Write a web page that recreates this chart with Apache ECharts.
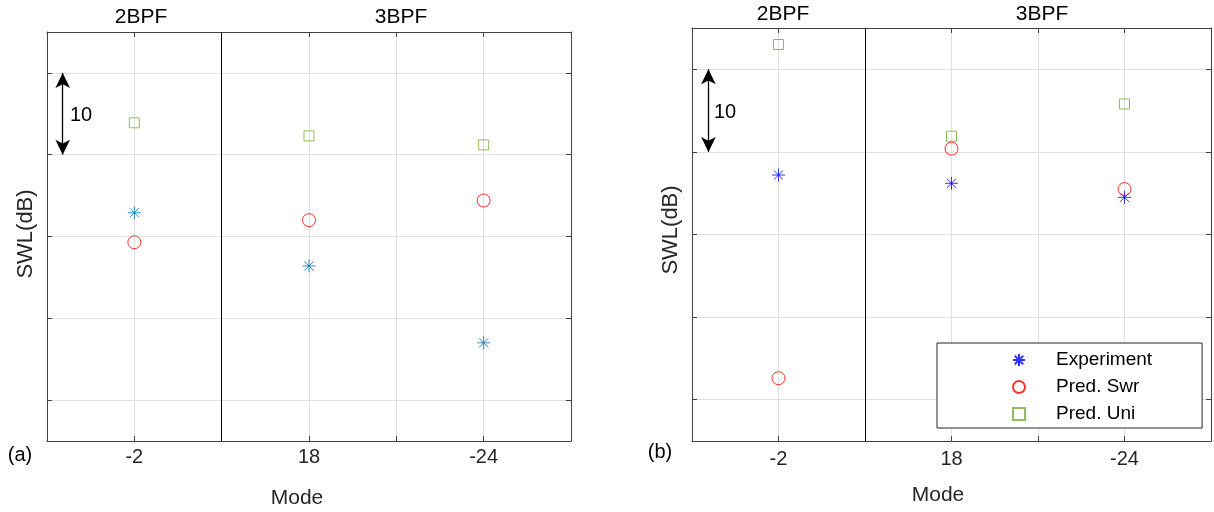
<!DOCTYPE html>
<html>
<head>
<meta charset="utf-8">
<script src="https://cdn.jsdelivr.net/npm/echarts@6.0.0/dist/echarts.min.js"></script>
<style>
html, body { margin: 0; padding: 0; background: #fff; }
#main { width: 1214px; height: 512px; }
</style>
</head>
<body>
<div id="main"></div>
<script>
// x axis: mode numbers and the slot each one sits in
var modes = ['-2', '18', '-24'];
var modeSlots = [1, 3, 5];
var bpfSplit = 2;          // line between 2BPF and 3BPF
var bpfNames = ['2BPF', '3BPF'];

// (a) SWL, dB (relative, no tick labels on the plot)
var expA = [27.9, 21.4, 12.0];
var swrA = [24.3, 27.0, 29.4];
var uniA = [38.9, 37.3, 36.2];

// (b)
var expB = [32.2, 31.2, 29.5];
var swrB = [7.6, 35.4, 30.5];
var uniB = [48.0, 36.9, 40.8];

// the 10 dB scale arrow
var scaleBar = [45, 35];
var scaleLabel = '10';

var myChart = echarts.init(document.getElementById('main'));
var font = 'Liberation Sans, Arial, Helvetica, sans-serif';
var frame = '#404040';
var gridCol = '#e0e0e0';
var green = '#77ac30';
var star = 'path://M10 0L10 20M0 10L20 10M3 3L17 17M3 17L17 3';

function pts(vals) {
    return vals.map(function (v, i) { return [modeSlots[i], v]; });
}

function xAxisFor(gi, pos, labels, margin) {
    return {
        type: 'value', gridIndex: gi, position: pos,
        min: 0, max: 6, interval: 1,
        axisLine: { show: true, onZero: false, lineStyle: { color: frame, width: 1 } },
        axisTick: { show: true, inside: true, length: 5, lineStyle: { color: frame } },
        axisLabel: {
            show: labels, margin: margin, fontSize: 20, color: '#262626', fontFamily: font,
            formatter: function (v) {
                var k = modeSlots.indexOf(v);
                return k < 0 ? '' : modes[k];
            }
        },
        splitLine: { show: labels, lineStyle: { color: gridCol } }
    };
}

function yAxisFor(gi, pos, grid) {
    return {
        type: 'value', gridIndex: gi, position: pos,
        min: 0, max: 50, interval: 10,
        axisLine: { show: true, onZero: false, lineStyle: { color: frame, width: 1 } },
        axisTick: { show: false, inside: true },
        axisLabel: { show: false },
        splitLine: { show: false },
        minorTick: { show: true, splitNumber: 2, length: 5, lineStyle: { color: frame } },
        minorSplitLine: { show: grid, lineStyle: { color: gridCol } }
    };
}

function scatter(name, gi, vals, symbol, size, color) {
    return {
        name: name, type: 'scatter',
        xAxisIndex: gi * 2, yAxisIndex: gi * 2,
        symbol: symbol, symbolSize: size,
        itemStyle: { color: 'rgba(255,255,255,0)', borderColor: color, borderWidth: 1 },
        emphasis: { disabled: true },
        data: pts(vals),
        z: 10
    };
}

// black line between 2BPF and 3BPF
function splitLine(s) {
    s.markLine = {
        silent: true, animation: false,
        symbol: ['none', 'none'],
        label: { show: false },
        lineStyle: { color: '#000', width: 1, type: 'solid' },
        data: [{ xAxis: bpfSplit }]
    };
    return s;
}

// double arrow showing 10 dB
function arrow(s, arrowX) {
    s.markLine = {
        silent: true, animation: false,
        symbol: ['arrow', 'arrow'],
        symbolSize: [11, 15],
        label: { show: false },
        lineStyle: { color: '#000', width: 1.3, type: 'solid' },
        data: [[
            { coord: [arrowX, scaleBar[0]] },
            { coord: [arrowX, scaleBar[1]] }
        ]]
    };
    return s;
}

function txt(x, y, s, size, color, rot) {
    return {
        type: 'text', x: x, y: y, rotation: rot || 0, silent: true,
        style: {
            text: s, fontSize: size, fontFamily: font, fill: color,
            align: 'center', verticalAlign: 'middle'
        }
    };
}

var options = {
    backgroundColor: '#fff',
    animation: false,
    grid: [
        { left: 47, top: 32, width: 524, height: 409 },
        { left: 692, top: 28, width: 521, height: 413 }
    ],
    xAxis: [
        xAxisFor(0, 'bottom', true, 6), xAxisFor(0, 'top', false, 0),
        xAxisFor(1, 'bottom', true, 8), xAxisFor(1, 'top', false, 0)
    ],
    yAxis: [
        yAxisFor(0, 'left', true), yAxisFor(0, 'right', false),
        yAxisFor(1, 'left', true), yAxisFor(1, 'right', false)
    ],
    legend: {
        data: [
            { name: 'Experiment', itemStyle: { borderColor: '#0000ff' } },
            { name: 'Pred. Swr' },
            { name: 'Pred. Uni' }
        ],
        orient: 'vertical',
        left: 937, top: 343,
        padding: [7, 50, 4, 75],
        itemWidth: 12, itemHeight: 12, itemGap: 7,
        borderColor: '#262626', borderWidth: 1, borderRadius: 0,
        backgroundColor: '#fff',
        selectedMode: false,
        textStyle: { fontSize: 19, lineHeight: 20, color: '#000', fontFamily: font, padding: [0, 0, 0, 26] }
    },
    series: [
        scatter('Experiment', 0, expA, star, 13, '#0072bd'),
        splitLine(scatter('Pred. Swr', 0, swrA, 'circle', 13, '#ff0000')),
        arrow(scatter('Pred. Uni', 0, uniA, 'rect', 10, green), 0.18),
        scatter('Experiment', 1, expB, star, 13, '#0000ff'),
        splitLine(scatter('Pred. Swr', 1, swrB, 'circle', 13, '#ff0000')),
        arrow(scatter('Pred. Uni', 1, uniB, 'rect', 10, green), 0.19)
    ],
    graphic: [
        txt(141, 17, bpfNames[0], 21, '#000'),
        txt(401, 17, bpfNames[1], 21, '#000'),
        txt(783, 14, bpfNames[0], 21, '#000'),
        txt(1042, 14, bpfNames[1], 21, '#000'),
        txt(81, 115, scaleLabel, 20, '#000'),
        txt(725, 112, scaleLabel, 20, '#000'),
        txt(20, 455, '(a)', 20, '#000'),
        txt(660, 452, '(b)', 20, '#000'),
        txt(297, 498, 'Mode', 21, '#262626'),
        txt(938, 495, 'Mode', 21, '#262626'),
        txt(26, 234, 'SWL(dB)', 22, '#262626', Math.PI / 2),
        txt(671, 230, 'SWL(dB)', 22, '#262626', Math.PI / 2)
    ]
};
myChart.setOption(options);
</script>
</body>
</html>
